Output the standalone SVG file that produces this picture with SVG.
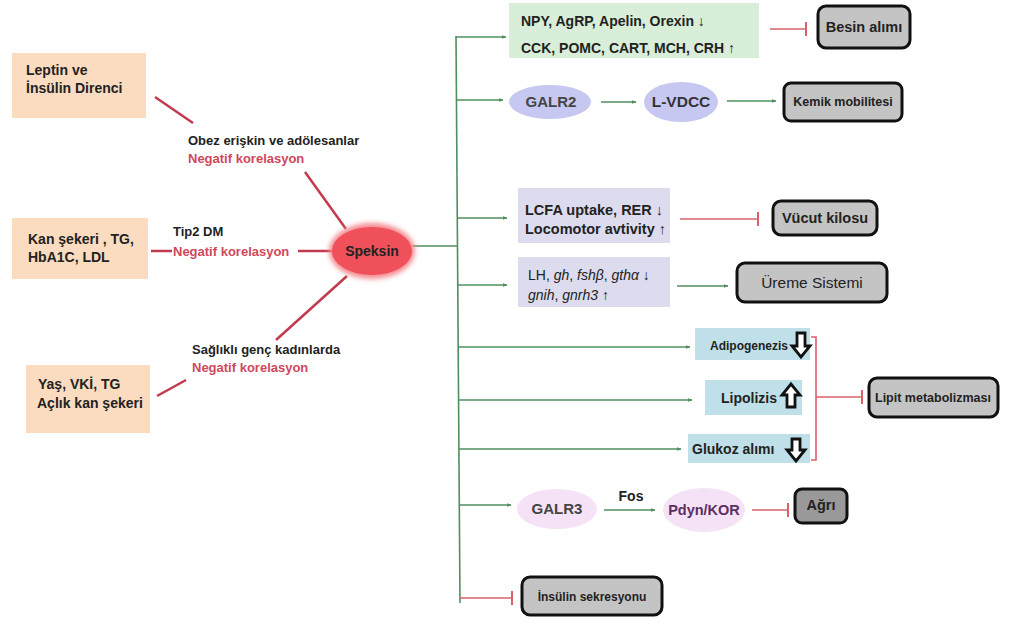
<svg xmlns="http://www.w3.org/2000/svg" width="1009" height="626" viewBox="0 0 1009 626">
<defs>
<marker id="ga" viewBox="0 0 10 10" refX="9" refY="5" markerWidth="5" markerHeight="5" orient="auto" markerUnits="userSpaceOnUse"><path d="M0,1 L10,5 L0,9 z" fill="#4f8f5f"/></marker>
<marker id="rt" viewBox="0 0 4 14" refX="2" refY="7" markerWidth="4" markerHeight="14" orient="auto" markerUnits="userSpaceOnUse"><path d="M2,0 L2,14" stroke="#d9606a" stroke-width="2"/></marker>
<filter id="glow" x="-30%" y="-40%" width="160%" height="180%"><feGaussianBlur stdDeviation="2.5"/></filter>
</defs>
<style>
text{font-family:"Liberation Sans",Arial,sans-serif;font-weight:bold;fill:#222}
.red{fill:#d0485c}
.lred{stroke:#c23a50;stroke-width:2.5;fill:none}
.g{stroke:#4f8f5f;stroke-width:1.6;fill:none}
.ga{stroke:#4f8f5f;stroke-width:1.6;fill:none;marker-end:url(#ga)}
.rt{stroke:#d9606a;stroke-width:1.6;fill:none;marker-end:url(#rt)}
.peach{fill:#fbdcc0}
.out{fill:#c4c4c4;stroke:#111;stroke-width:3}
.arr{fill:#fff;stroke:#111;stroke-width:2.8;stroke-linejoin:miter}
.lt{font-size:13px}
.bt{font-size:14px}
</style>
<rect width="1009" height="626" fill="#fff"/>

<g id="connectors">
<line class="lred" x1="155" y1="97" x2="193" y2="123"/>
<line class="lred" x1="305" y1="172" x2="346" y2="229"/>
<line class="lred" x1="151" y1="251" x2="172" y2="251"/>
<line class="lred" x1="298" y1="251" x2="333" y2="251"/>
<line class="lred" x1="157" y1="396" x2="186" y2="380"/>
<line class="lred" x1="276" y1="340" x2="347" y2="276"/>
<line class="g" x1="412" y1="246" x2="457" y2="246"/>
<line class="g" x1="456" y1="36" x2="460" y2="603"/>
<line class="ga" x1="456" y1="37" x2="506" y2="37"/>
<line class="ga" x1="456" y1="100" x2="503" y2="100"/>
<line class="ga" x1="457" y1="218" x2="507" y2="218"/>
<line class="ga" x1="457" y1="285" x2="507" y2="285"/>
<line class="ga" x1="458" y1="347" x2="690" y2="347"/>
<line class="ga" x1="458" y1="400" x2="692" y2="400"/>
<line class="ga" x1="459" y1="449" x2="681" y2="449"/>
<line class="ga" x1="459" y1="505" x2="511" y2="505"/>
<line class="rt" x1="460" y1="598" x2="512" y2="598"/>
<line class="rt" x1="770" y1="29" x2="806" y2="29"/>
<line class="ga" x1="601" y1="102" x2="636" y2="102"/>
<line class="ga" x1="727" y1="101" x2="776" y2="101"/>
<line class="rt" x1="680" y1="219" x2="758" y2="219"/>
<line class="ga" x1="677" y1="286" x2="728" y2="286"/>
<path d="M811,337 L816,337 L816,460 L811,460" stroke="#d9606a" stroke-width="1.6" fill="none"/>
<line class="rt" x1="816" y1="397" x2="862" y2="397"/>
<line class="ga" x1="604" y1="510" x2="655" y2="510"/>
<line class="rt" x1="752" y1="510" x2="788" y2="510"/>
</g>

<g id="n-leptin">
<rect class="peach" x="12" y="53" width="134" height="65"/>
<text x="26" y="75" class="bt">Leptin ve</text>
<text x="26" y="93" class="bt">İnsülin Direnci</text>
</g>
<g id="n-kan">
<rect class="peach" x="12" y="218" width="136" height="61"/>
<text x="28" y="244" class="bt">Kan şekeri , TG,</text>
<text x="28" y="262" class="bt"> HbA1C, LDL</text>
</g>
<g id="n-yas">
<rect class="peach" x="26" y="365" width="124" height="68"/>
<text x="38" y="389" class="bt">Yaş, VKİ, TG</text>
<text x="37" y="408" class="bt">Açlık kan şekeri</text>
</g>

<g id="l-obez">
<text x="188" y="145" class="lt">Obez erişkin ve adölesanlar</text>
<text x="188" y="163" class="lt red">Negatif korelasyon</text>
</g>
<g id="l-tip2">
<text x="173" y="236" class="lt">Tip2 DM</text>
<text x="173" y="256" class="lt red">Negatif korelasyon</text>
</g>
<g id="l-saglikli">
<text x="192" y="354" class="lt">Sağlıklı genç kadınlarda</text>
<text x="192" y="372" class="lt red">Negatif korelasyon</text>
</g>

<g id="n-speksin">
<ellipse cx="372" cy="251" rx="43" ry="28" fill="#f48a90" filter="url(#glow)"/>
<ellipse cx="372" cy="251" rx="40" ry="24" fill="#f0505a"/>
<text x="372" y="256" font-size="14" text-anchor="middle">Speksin</text>
</g>

<g id="n-npy">
<rect x="509" y="3" width="250" height="55" fill="#d8eed8"/>
<text x="521" y="26" font-size="14">NPY, AgRP, Apelin, Orexin ↓</text>
<text x="521" y="53" font-size="14">CCK, POMC, CART, MCH, CRH ↑</text>
</g>
<g id="n-besin">
<rect class="out" x="818" y="6" width="92" height="42" rx="8"/>
<text x="864" y="32" font-size="14.5" text-anchor="middle">Besin alımı</text>
</g>

<g id="n-galr2">
<ellipse cx="550" cy="102" rx="41" ry="17" fill="#c6c8f2"/>
<text x="551" y="107" font-size="15" text-anchor="middle" style="fill:#444">GALR2</text>
</g>
<g id="n-lvdcc">
<ellipse cx="681" cy="102" rx="37" ry="20" fill="#c6c8f2"/>
<text x="681" y="107" font-size="15.5" text-anchor="middle" style="fill:#333">L-VDCC</text>
</g>
<g id="n-kemik">
<rect class="out" x="784" y="83" width="118" height="38" rx="7"/>
<text x="843" y="106" font-size="12.5" text-anchor="middle">Kemik mobilitesi</text>
</g>

<g id="n-lcfa">
<rect x="518" y="188" width="152" height="55" fill="#dcdcee"/>
<text x="525" y="215" font-size="14.5">LCFA uptake, RER  ↓</text>
<text x="525" y="234" font-size="14.5">Locomotor avtivity ↑</text>
</g>
<g id="n-vucut">
<rect class="out" x="773" y="201" width="104" height="34" rx="8"/>
<text x="825" y="223" font-size="14.5" text-anchor="middle">Vücut kilosu</text>
</g>

<g id="n-lh">
<rect x="518" y="257" width="152" height="50" fill="#dcdcee"/>
<text x="528" y="280" font-size="14" style="font-weight:normal">LH, <tspan font-style="italic">gh</tspan>, <tspan font-style="italic">fshβ</tspan>, <tspan font-style="italic">gthα</tspan>  ↓</text>
<text x="528" y="300" font-size="14" style="font-weight:normal"><tspan font-style="italic">gnih</tspan>, <tspan font-style="italic">gnrh3</tspan>   ↑</text>
</g>
<g id="n-ureme">
<rect class="out" x="737" y="263" width="150" height="39" rx="8"/>
<text x="812" y="288" font-size="15.5" text-anchor="middle" style="font-weight:normal">Üreme Sistemi</text>
</g>

<g id="n-adipo">
<rect x="695" y="328" width="115" height="32" fill="#bfe0e8"/>
<text x="710" y="350" font-size="12">Adipogenezis</text>
<path class="arr" d="M797,333 L805,333 L805,346 L810,346 L801,357 L792,346 L797,346 Z"/>
</g>
<g id="n-lipo">
<rect x="705" y="380" width="97" height="35" fill="#bfe0e8"/>
<text x="721" y="403" font-size="14">Lipolizis</text>
<path class="arr" d="M787,407 L795,407 L795,395 L800,395 L791,384 L782,395 L787,395 Z"/>
</g>
<g id="n-glukoz">
<rect x="688" y="434" width="122" height="29" fill="#bfe0e8"/>
<text x="692" y="454" font-size="14">Glukoz alımı</text>
<path class="arr" d="M792,439 L800,439 L800,450 L805,450 L796,461 L787,450 L792,450 Z"/>
</g>
<g id="n-lipit">
<rect class="out" x="869" y="378" width="129" height="39" rx="8"/>
<text x="933" y="402" font-size="12.5" text-anchor="middle">Lipit metabolizması</text>
</g>

<g id="n-galr3">
<ellipse cx="557" cy="509" rx="40" ry="20" fill="#f6e2f6"/>
<text x="557" y="514" font-size="15" text-anchor="middle" style="fill:#444">GALR3</text>
</g>
<g id="l-fos">
<text x="631" y="501" font-size="14" text-anchor="middle">Fos</text>
</g>
<g id="n-pdyn">
<ellipse cx="704" cy="510" rx="41" ry="22" fill="#f6e2f6"/>
<text x="704" y="515" font-size="14.5" text-anchor="middle" style="fill:#5a2f62">Pdyn/KOR</text>
</g>
<g id="n-agri">
<rect class="out" x="795" y="489" width="52" height="34" rx="7" style="fill:#999"/>
<text x="821" y="510" font-size="14.5" text-anchor="middle">Ağrı</text>
</g>

<g id="n-insulin">
<rect class="out" x="522" y="577" width="140" height="38" rx="8"/>
<text x="592" y="601" font-size="12" text-anchor="middle">İnsülin sekresyonu</text>
</g>
</svg>
